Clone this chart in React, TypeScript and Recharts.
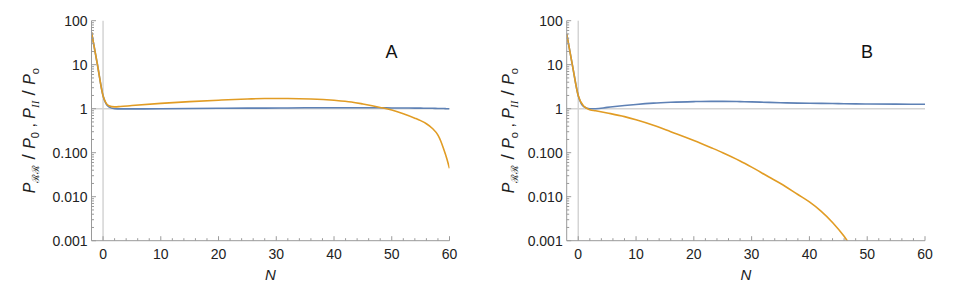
import { LineChart, Line, XAxis, YAxis, ReferenceLine } from "recharts";

// N (e-folds) sample points and the two power-spectrum ratios
const nA = [-2, -1, 0, 1, 2, 3, 5, 10, 15, 20, 25, 28, 32, 36, 40, 43, 45, 48, 50, 52, 54, 55, 56, 57, 58, 58.5, 59, 59.5, 60];
const blueA = [55, 10.5, 1.97, 1.1, 1.0, 0.99, 0.99, 1.0, 1.01, 1.02, 1.03, 1.03, 1.04, 1.05, 1.05, 1.05, 1.05, 1.05, 1.04, 1.04, 1.03, 1.03, 1.02, 1.02, 1.01, 1.01, 1.01, 1.0, 1.0];
const orangeA = [55, 10.5, 1.97, 1.17, 1.1, 1.12, 1.18, 1.32, 1.45, 1.56, 1.66, 1.7, 1.7, 1.66, 1.55, 1.42, 1.28, 1.07, 0.93, 0.77, 0.61, 0.535, 0.455, 0.36, 0.25, 0.182, 0.12, 0.076, 0.044];

const nB = [-2, -1, 0, 1, 2, 3, 5, 8, 10, 13, 16, 20, 23, 25, 28, 30, 33, 35, 38, 40, 42, 44, 46, 48, 50, 55, 60];
const blueB = [50, 9.5, 1.97, 1.1, 1.0, 1.0, 1.07, 1.18, 1.25, 1.34, 1.4, 1.45, 1.47, 1.47, 1.45, 1.43, 1.39, 1.37, 1.34, 1.33, 1.32, 1.31, 1.3, 1.29, 1.28, 1.27, 1.26];
const orangeB = [50, 9.5, 1.97, 1.13, 0.95, 0.9, 0.8, 0.66, 0.56, 0.42, 0.3, 0.19, 0.13, 0.1, 0.065, 0.047, 0.028, 0.02, 0.0112, 0.0076, 0.0047, 0.0026, 0.00126, 0.0005, null, null, null];

const xTicks = [0, 2, 4, 6, 8, 10, 12, 14, 16, 18, 20, 22, 24, 26, 28, 30, 32, 34, 36, 38, 40, 42, 44, 46, 48, 50, 52, 54, 56, 58, 60];
const yMajor = [0.001, 0.01, 0.1, 1, 10, 100];
const yMajorLabels = ["0.001", "0.010", "0.100", "1", "10", "100"];
const yMinorSteps = [2, 3, 4, 5, 6, 7, 8, 9];
const yTicks = [...yMajor, ...yMajor.slice(0, -1).flatMap((d) => yMinorSteps.map((m) => d * m))];

const BLUE = "#5E81B5";
const ORANGE = "#E19C24";
const FRAME = "#9a9a9a";
const GRID = "#d4d4d4";
const FONT = '"Liberation Sans", Arial, sans-serif';

const makeXTick = (side: "bottom" | "top") => (props: any) => {
  const { x, y, payload } = props;
  const v = payload.value;
  const major = v % 10 === 0;
  const len = major ? 4.5 : 2.5;
  const dir = side === "bottom" ? -1 : 1;
  return (
    <g>
      <line x1={x} x2={x} y1={y} y2={y + dir * len} stroke={FRAME} />
      {side === "bottom" && major && (
        <text x={x} y={y + 13} textAnchor="middle" dominantBaseline="central" fontSize={14} fontFamily={FONT} fill="#222">
          {v}
        </text>
      )}
    </g>
  );
};

const makeYTick = (side: "left" | "right") => (props: any) => {
  const { x, y, payload } = props;
  const v = payload.value;
  const idx = yMajor.indexOf(v);
  const major = idx >= 0;
  const len = major ? 4.5 : 2.5;
  const dir = side === "left" ? 1 : -1;
  return (
    <g>
      <line x1={x} x2={x + dir * len} y1={y} y2={y} stroke={FRAME} />
      {side === "left" && major && (
        <text x={x - 4} y={y} textAnchor="end" dominantBaseline="central" fontSize={14} fontFamily={FONT} fill="#222">
          {yMajorLabels[idx]}
        </text>
      )}
    </g>
  );
};

function YLabel({ viewBox, sub }: any) {
  const vb = viewBox ?? { x: 0, y: 21, width: 90, height: 220 };
  const cx = vb.x + 35;
  const cy = vb.y + vb.height / 2;
  return (
    <text x={cx} y={cy} transform={`rotate(-90 ${cx} ${cy})`} textAnchor="middle" fontSize={16} fontFamily={FONT} fill="#222">
      <tspan fontStyle="italic">P</tspan>
      <tspan fontSize={10} dy={4}>ℛℛ</tspan>
      <tspan dy={-4} fontSize={19}> / </tspan>
      <tspan fontStyle="italic">P</tspan>
      <tspan fontSize={11} dy={4}>{sub}</tspan>
      <tspan dy={-4}> , </tspan>
      <tspan fontStyle="italic">P</tspan>
      <tspan fontSize={11} dy={4} fontStyle="italic" fontFamily='"Liberation Serif", serif'>II</tspan>
      <tspan dy={-4} fontSize={19}> / </tspan>
      <tspan fontStyle="italic">P</tspan>
      <tspan fontSize={11} dy={4}>o</tspan>
    </text>
  );
}

function XLabel({ viewBox }: any) {
  const vb = viewBox ?? { x: 91, y: 241, width: 358, height: 57 };
  return (
    <text x={vb.x + vb.width / 2} y={vb.y + 34} textAnchor="middle" dominantBaseline="central" fontSize={15} fontStyle="italic" fontFamily={FONT} fill="#222">
      N
    </text>
  );
}

interface PanelProps {
  n: number[];
  blue: (number | null)[];
  orange: (number | null)[];
  letter: string;
  sub: string;
  axisWidth: number;
  rightMargin: number;
  letterX: number;
}

function Panel({ n, blue, orange, letter, sub, axisWidth, rightMargin, letterX }: PanelProps) {
  const data = n.map((v, i) => ({ n: v, blue: blue[i], orange: orange[i] }));
  return (
    <div style={{ position: "relative", width: 479, height: 298 }}>
      <LineChart width={479} height={298} data={data} margin={{ top: 20.7, right: rightMargin, bottom: 0, left: 0 }}>
        <XAxis
          dataKey="n"
          type="number"
          domain={[-2, 60]}
          allowDataOverflow
          ticks={xTicks}
          interval={0}
          tick={makeXTick("bottom")}
          tickLine={false}
          tickSize={0}
          tickMargin={0}
          height={57.3}
          axisLine={{ stroke: FRAME }}
          label={(p: any) => <XLabel {...p} />}
        />
        <XAxis
          xAxisId="top"
          orientation="top"
          dataKey="n"
          type="number"
          domain={[-2, 60]}
          allowDataOverflow
          ticks={xTicks}
          interval={0}
          tick={makeXTick("top")}
          tickLine={false}
          tickSize={0}
          tickMargin={0}
          height={0}
          axisLine={{ stroke: FRAME }}
        />
        <YAxis
          type="number"
          scale="log"
          domain={[0.001, 100]}
          allowDataOverflow
          ticks={yTicks}
          interval={0}
          tick={makeYTick("left")}
          tickLine={false}
          tickSize={0}
          tickMargin={0}
          width={axisWidth}
          axisLine={{ stroke: FRAME }}
          label={(p: any) => <YLabel {...p} sub={sub} />}
        />
        <YAxis
          yAxisId="right"
          orientation="right"
          type="number"
          scale="log"
          domain={[0.001, 100]}
          allowDataOverflow
          ticks={yTicks}
          interval={0}
          tick={makeYTick("right")}
          tickLine={false}
          tickSize={0}
          tickMargin={0}
          width={0}
          axisLine={{ stroke: FRAME }}
        />
        <ReferenceLine x={0} stroke={GRID} strokeWidth={1.5} />
        <ReferenceLine y={1} stroke={GRID} strokeWidth={1.5} />
        <Line dataKey="blue" type="monotoneX" stroke={BLUE} strokeWidth={1.6} dot={false} isAnimationActive={false} />
        <Line dataKey="orange" type="monotoneX" stroke={ORANGE} strokeWidth={1.6} dot={false} isAnimationActive={false} />
      </LineChart>
      <div
        style={{
          position: "absolute",
          left: letterX - 20,
          width: 40,
          top: 41,
          textAlign: "center",
          fontFamily: FONT,
          fontSize: 18,
          lineHeight: "22px",
          color: "#111",
        }}
      >
        {letter}
      </div>
    </div>
  );
}

export default function App() {
  return (
    <div style={{ position: "absolute", left: 0, top: 0, width: 958, height: 298, display: "flex", background: "#fff" }}>
      <Panel n={nA} blue={blueA} orange={orangeA} letter="A" sub="0" axisWidth={91.5} rightMargin={29.5} letterX={391.5} />
      <Panel n={nB} blue={blueB} orange={orangeB} letter="B" sub="o" axisWidth={87.7} rightMargin={33} letterX={388} />
    </div>
  );
}
